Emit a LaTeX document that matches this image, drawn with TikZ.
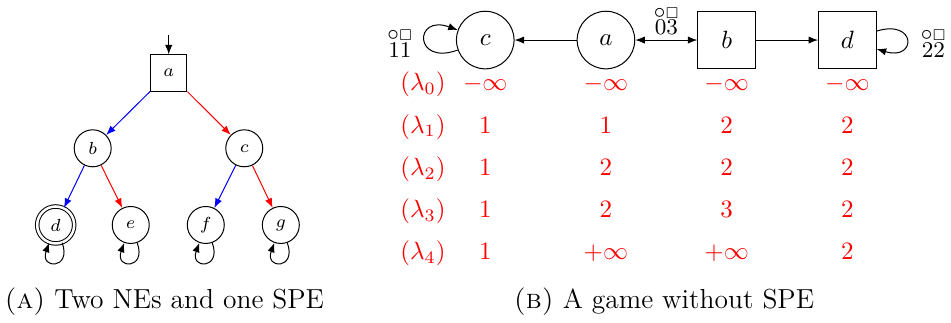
\documentclass[tikz,border=0pt]{standalone}
\usepackage{amssymb}
\usetikzlibrary{positioning, arrows.meta}

\newcommand{\payoff}[1]{{\small\vbox{\offinterlineskip\halign{\hfil##\hfil\cr
    $\circ\scriptscriptstyle\square$\cr\noalign{\kern0.7pt}$#1$\cr}}}}

\begin{document}
\begin{tikzpicture}[
    >={Latex[length=3.8pt, width=2.9pt]},
    tstate/.style={circle, draw, minimum size=0.52cm, inner sep=0pt, font=\scriptsize},
    tplayer/.style={rectangle, draw, minimum size=0.51cm, inner sep=0pt, font=\scriptsize},
    gstate/.style={circle, draw, minimum size=0.81cm, inner sep=0pt},
    gplayer/.style={rectangle, draw, minimum size=0.81cm, inner sep=0pt},
    final/.style={double, double distance=1pt},
    val/.style={red, anchor=base},
    pay/.style={inner sep=0pt, anchor=base},
    tloop/.style={loop, out=-70, in=-110, looseness=5, min distance=4mm},
    caption/.style={font=\fontsize{11}{13.6}\selectfont}
]

\useasboundingbox (0,0) rectangle (13.37,4.541);

%% (a) strom
\def\leafdist{1.055}   % vzdialenosť listov
\node[tplayer] (ta) at (2.372,3.514) {$a$};
\node[tstate]  (tb) at (1.303,2.456) {$b$};
\node[tstate]  (tc) at (3.434,2.456) {$c$};
\node[tstate, final] (td) at (0.783,1.378) {$d$};
\node[tstate]  (te) at (0.783+\leafdist,1.378) {$e$};
\node[tstate]  (tf) at (0.783+2*\leafdist,1.378) {$f$};
\node[tstate]  (tg) at (0.783+3*\leafdist,1.378) {$g$};

\coordinate[above=0.27cm of ta] (tinit);
\draw[->] (tinit) -- (ta);

\draw[->, blue] (ta) -- (tb);
\draw[->, red]  (ta) -- (tc);
\draw[->, blue] (tb) -- (td);
\draw[->, red]  (tb) -- (te);
\draw[->, blue] (tc) -- (tf);
\draw[->, red]  (tc) -- (tg);

\foreach \n in {td,te,tf,tg}
    \path[->] (\n) edge[tloop] (\n);

\node[caption] (capa) at (2.31,0.30) {\textsc{(a)} Two NEs and one SPE};

%% (b) hra bez SPE
\def\colw{1.697}   % vzdialenosť stĺpcov
\node[gstate]  (gc) at (6.822,3.978) {$c$};
\node[gstate]  (ga) at (6.822+\colw,3.978) {$a$};
\node[gplayer] (gb) at (6.822+2*\colw,3.978) {$b$};
\node[gplayer] (gd) at (6.822+3*\colw,3.978) {$d$};

\draw[->]  (ga) -- (gc);
\draw[<->] (ga) -- node[above=2pt, inner sep=0pt] (pab) {\payoff{03}} (gb);
\draw[->]  (gb) -- (gd);
\path[->] (gc) edge[loop, out=200, in=160, looseness=6] (gc);
\path[->] (gd) edge[loop, out=17, in=-17, looseness=6] (gd);

\node[pay] (pc) at (5.623,3.739) {\payoff{11}};
\node[pay] (pd) at (13.123,3.739) {\payoff{22}};

%% Hodnoty lambda
\foreach \i/\vc/\va/\vb/\vd in {
    0/-\infty/-\infty/-\infty/-\infty,
    1/1/1/2/2,
    2/1/2/2/2,
    3/1/2/3/2,
    4/1/+\infty/+\infty/2
} {
    \pgfmathsetmacro\ypos{3.266-0.595*\i}
    \node[val] (lam\i) at (5.947,\ypos) {$(\lambda_{\i})$};
    \node[val] (vc\i) at (6.822,\ypos) {$\vc$};
    \node[val] (va\i) at (6.822+\colw,\ypos) {$\va$};
    \node[val] (vb\i) at (6.822+2*\colw,\ypos) {$\vb$};
    \node[val] (vd\i) at (6.822+3*\colw,\ypos) {$\vd$};
}

\node[caption] (capb) at (9.335,0.30) {\textsc{(b)} A game without SPE};

\end{tikzpicture}
\end{document}
